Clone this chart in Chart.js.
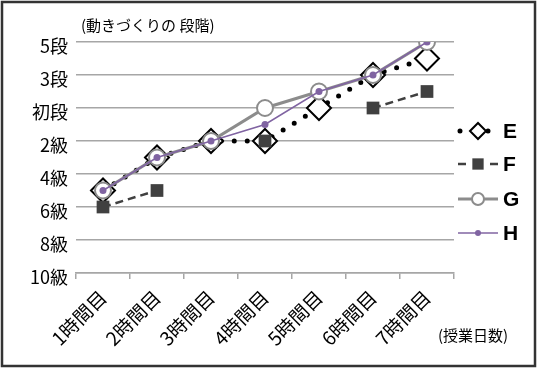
<!DOCTYPE html>
<html><head><meta charset="utf-8">
<script src="https://cdn.jsdelivr.net/npm/chart.js@4.4.1/dist/chart.umd.min.js"></script>
<style>html,body{margin:0;padding:0;background:#fff}canvas{display:block}</style>
</head><body>
<canvas id="c" width="547" height="369"></canvas>
<script>
// Level index: 0 = 10級, 1 = 9級 ... 9 = 1級, 10 = 初段, 11 = 2段 ... 14 = 5段
const categories = ['1時間目','2時間目','3時間目','4時間目','5時間目','6時間目','7時間目'];
const tickValues = [0, 2, 4, 6, 8, 10, 12, 14];
const tickLabels = ['10級','8級','6級','4級','2級','初段','3段','5段'];
const seriesNames = ['E','F','G','H'];
const seriesE = [5, 7, 8, 8, 10, 12, 13];
const seriesF = [4, 5, null, 8, null, 10, 11];
const seriesG = [5, 7, 8, 10, 11, 12, 14];
const seriesH = [5, 7, 8, 9, 11, 12, 14];
const yTitle = '(動きづくりの 段階)';
const xTitle = '(授業日数)';

const JP = '"Noto Sans CJK JP", "Noto Sans", sans-serif';

const styles = [
  {borderColor:'#000', borderWidth:5, borderDash:[0,13], borderCapStyle:'round', pointStyle:'rectRot', pointRadius:12, pointBorderWidth:2, pointBackgroundColor:'#fff', pointBorderColor:'#000', order:4,
   leg:{dash:[0,28], width:5, cap:'round', r:8, from:460, to:489}},
  {borderColor:'#404040', borderWidth:2.5, borderDash:[8,5], borderCapStyle:'butt', pointStyle:'rect', pointRadius:9, pointBorderWidth:0, pointBackgroundColor:'#404040', pointBorderColor:'#404040', order:3,
   leg:{dash:[8,24], width:2.5, cap:'butt', r:8, from:458, to:498}},
  {borderColor:'#8c8c8c', borderWidth:3, borderDash:[], borderCapStyle:'butt', pointStyle:'circle', pointRadius:8, pointBorderWidth:2, pointBackgroundColor:'#fff', pointBorderColor:'#8c8c8c', order:2,
   leg:{dash:[], width:3, cap:'butt', r:6, from:458, to:498}},
  {borderColor:'#8064a2', borderWidth:1.5, borderDash:[], borderCapStyle:'butt', pointStyle:'circle', pointRadius:3.5, pointBorderWidth:0, pointBackgroundColor:'#8064a2', pointBorderColor:'#8064a2', order:1,
   leg:{dash:[], width:1.5, cap:'butt', r:3, from:458, to:498}}
];
const seriesData = [seriesE, seriesF, seriesG, seriesH];

const datasets = seriesNames.map((n, i) => {
  const s = styles[i];
  return {
    label: n, data: seriesData[i],
    borderColor: s.borderColor, borderWidth: s.borderWidth, borderDash: s.borderDash,
    borderCapStyle: s.borderCapStyle, pointStyle: s.pointStyle, pointRadius: s.pointRadius,
    pointHoverRadius: s.pointRadius, pointBorderWidth: s.pointBorderWidth,
    pointBackgroundColor: s.pointBackgroundColor, pointBorderColor: s.pointBorderColor,
    backgroundColor: s.pointBackgroundColor, order: s.order, tension: 0, spanGaps: false, fill: false
  };
});

const legendY = [131, 164, 199, 233];

const decor = {
  id: 'decor',
  beforeDraw(chart) {
    const ctx = chart.ctx;
    ctx.save();
    ctx.fillStyle = '#fff';
    ctx.fillRect(0, 0, chart.width, chart.height);
    ctx.restore();
  },
  afterDraw(chart) {
    const ctx = chart.ctx;
    ctx.save();
    // frame
    ctx.strokeStyle = '#333';
    ctx.lineWidth = 2.5;
    ctx.strokeRect(2, 2, 533, 364);
    // titles
    ctx.fillStyle = '#000';
    ctx.font = '15px ' + JP;
    ctx.textBaseline = 'middle';
    ctx.textAlign = 'left';
    ctx.fillText(yTitle, 81, 25);
    ctx.fillText(xTitle, 438, 335);
    // legend
    chart.data.datasets.forEach((ds, i) => {
      const s = styles[i].leg;
      const y = legendY[i];
      ctx.save();
      ctx.strokeStyle = ds.borderColor;
      ctx.lineWidth = s.width;
      ctx.lineCap = s.cap;
      ctx.setLineDash(s.dash);
      ctx.beginPath();
      ctx.moveTo(s.from, y);
      ctx.lineTo(s.to, y);
      ctx.stroke();
      ctx.restore();
      ctx.save();
      ctx.fillStyle = ds.pointBackgroundColor;
      ctx.strokeStyle = ds.pointBorderColor;
      ctx.lineWidth = ds.pointBorderWidth;
      Chart.helpers.drawPoint(ctx, {pointStyle: ds.pointStyle, rotation: 0, radius: s.r, borderWidth: ds.pointBorderWidth}, 478, y);
      ctx.restore();
      ctx.save();
      ctx.fillStyle = '#000';
      ctx.font = 'bold 21px "Liberation Sans", Arial, sans-serif';
      ctx.textBaseline = 'middle';
      ctx.textAlign = 'left';
      ctx.fillText(ds.label, 503, y + 1);
      ctx.restore();
    });
    ctx.restore();
  }
};

new Chart(document.getElementById('c'), {
  type: 'line',
  data: { labels: categories, datasets },
  options: {
    responsive: false,
    animation: false,
    events: [],
    layout: { padding: { left: 0, top: 42, right: 93, bottom: 0 } },
    plugins: { legend: { display: false }, tooltip: { enabled: false } },
    scales: {
      x: {
        offset: true,
        grid: { display: true, offset: true, drawOnChartArea: false, drawTicks: true, tickLength: 6, color: '#a6a6a6', lineWidth: 1.5 },
        border: { display: true, color: '#a6a6a6', width: 1.5 },
        ticks: { minRotation: 45, maxRotation: 45, color: '#000', padding: 7, font: { family: JP, size: 19 } },
        afterFit(scale) { scale.height = 96; }
      },
      y: {
        min: 0, max: 14,
        afterBuildTicks(scale) { scale.ticks = tickValues.map(v => ({ value: v })); },
        grid: { color: '#a6a6a6', lineWidth: 1.5, drawTicks: false },
        border: { display: false },
        ticks: {
          padding: 8, labelOffset: 4, color: '#000', font: { family: JP, size: 18 },
          callback: (v) => { const k = tickValues.indexOf(v); return k >= 0 ? tickLabels[k] : ''; }
        },
        afterFit(scale) { scale.width = 76; }
      }
    }
  },
  plugins: [decor]
});
</script>
</body></html>
